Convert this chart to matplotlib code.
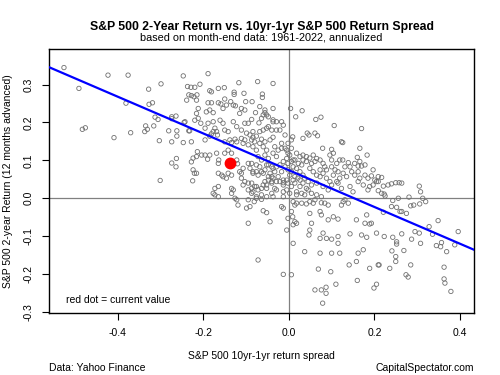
import numpy as np
import matplotlib
matplotlib.use("Agg")
import matplotlib.pyplot as plt

plt.rcParams['font.family'] = ['Liberation Sans', 'DejaVu Sans']

# monthly history: (10yr-1yr return spread, 2-year return 12 months ahead)
history = [
    (-0.526, 0.345), (-0.491, 0.290), (-0.423, 0.325), (-0.376, 0.325), (-0.299, 0.302),
    (-0.247, 0.323), (-0.189, 0.329), (-0.328, 0.288), (-0.483, 0.182), (-0.476, 0.186),
    (-0.409, 0.160), (-0.370, 0.173), (-0.381, 0.251), (-0.327, 0.248), (-0.319, 0.252),
    (-0.335, 0.191), (-0.331, 0.182), (-0.337, 0.176), (-0.316, 0.191), (-0.313, 0.214),
    (-0.306, 0.208), (-0.303, 0.152), (-0.301, 0.047), (-0.281, 0.178), (-0.274, 0.149),
    (-0.274, 0.210), (-0.264, 0.217), (-0.262, 0.178), (-0.262, 0.164), (-0.274, 0.093),
    (-0.264, 0.083), (-0.263, 0.105), (-0.245, 0.200), (-0.247, 0.147), (-0.234, 0.178),
    (-0.225, 0.046), (-0.228, 0.149),
    (-0.237, 0.295), (-0.229, 0.293), (-0.220, 0.293), (-0.208, 0.301), (-0.234, 0.273),
    (-0.228, 0.271), (-0.222, 0.268), (-0.215, 0.273), (-0.239, 0.259), (-0.216, 0.259),
    (-0.185, 0.284), (-0.181, 0.281), (-0.165, 0.290), (-0.151, 0.292), (-0.117, 0.305),
    (-0.073, 0.308), (-0.037, 0.303), (-0.128, 0.280), (-0.128, 0.274), (-0.105, 0.277),
    (-0.062, 0.275), (-0.062, 0.266), (-0.189, 0.252), (-0.181, 0.252), (-0.165, 0.252),
    (-0.159, 0.249), (-0.150, 0.262), (-0.212, 0.237), (-0.216, 0.224), (-0.193, 0.228),
    (-0.185, 0.233), (-0.177, 0.226), (-0.154, 0.237), (-0.146, 0.246), (-0.136, 0.255),
    (-0.130, 0.246), (-0.125, 0.244), (-0.111, 0.237), (-0.103, 0.233), (-0.115, 0.224),
    (-0.101, 0.255), (-0.086, 0.255), (-0.068, 0.242), (-0.056, 0.226), (-0.052, 0.220),
    (-0.048, 0.215), (-0.037, 0.237), (-0.037, 0.202), (-0.078, 0.226), (-0.087, 0.208),
    (-0.095, 0.198), (-0.103, 0.198), (-0.064, 0.211), (-0.070, 0.199), (-0.212, 0.211),
    (-0.220, 0.206), (-0.206, 0.198), (-0.189, 0.198), (-0.196, 0.185), (-0.177, 0.202),
    (-0.161, 0.206), (-0.154, 0.198), (-0.130, 0.202), (-0.122, 0.189), (-0.173, 0.185),
    (-0.169, 0.176), (-0.177, 0.176), (-0.181, 0.170), (-0.167, 0.167), (-0.150, 0.180),
    (-0.142, 0.176), (-0.111, 0.180), (-0.099, 0.172), (-0.091, 0.167), (-0.084, 0.161),
    (-0.076, 0.164), (-0.084, 0.176), (-0.068, 0.176), (-0.060, 0.180), (-0.052, 0.185),
    (-0.048, 0.189), (-0.040, 0.180), (-0.274, 0.215), (-0.243, 0.202), (-0.232, 0.178),
    (-0.196, 0.154), (-0.185, 0.164), (-0.111, 0.158), (-0.103, 0.154), (-0.087, 0.154),
    (-0.080, 0.149), (-0.064, 0.156), (-0.056, 0.149), (-0.044, 0.154), (-0.037, 0.161),
    (-0.138, 0.154), (-0.134, 0.147), (-0.126, 0.156),
    (-0.228, 0.096), (-0.224, 0.106), (-0.216, 0.110), (-0.214, 0.123), (-0.204, 0.114),
    (-0.196, 0.114), (-0.190, 0.103), (-0.185, 0.114), (-0.169, 0.119), (-0.164, 0.101),
    (-0.165, 0.092), (-0.224, 0.075), (-0.221, 0.066), (-0.216, 0.066), (-0.150, 0.119),
    (-0.142, 0.127), (-0.134, 0.119), (-0.122, 0.101), (-0.120, 0.091), (-0.165, 0.066),
    (-0.157, 0.061), (-0.154, 0.057), (-0.146, 0.053), (-0.142, 0.066), (-0.134, 0.061),
    (-0.115, 0.070), (-0.111, 0.066), (-0.107, 0.079), (-0.095, 0.092), (-0.091, 0.079),
    (-0.084, 0.066), (-0.076, 0.070), (-0.068, 0.083), (-0.064, 0.070), (-0.056, 0.075),
    (-0.048, 0.088), (-0.044, 0.066), (-0.040, 0.057), (-0.037, 0.079), (-0.111, 0.053),
    (-0.103, 0.044), (-0.095, 0.040), (-0.107, 0.035), (-0.173, 0.026), (-0.165, 0.031),
    (-0.177, 0.013), (-0.173, 0.009), (-0.134, 0.026), (-0.130, 0.022), (-0.134, 0.013),
    (-0.126, 0.000), (-0.122, -0.004), (-0.119, -0.018), (-0.095, 0.022), (-0.087, 0.026),
    (-0.084, 0.017), (-0.080, 0.031), (-0.072, 0.022), (-0.064, 0.026), (-0.060, 0.035),
    (-0.056, 0.044), (-0.052, 0.035), (-0.048, 0.048), (-0.040, 0.044), (-0.095, -0.004),
    (-0.081, -0.009), (-0.076, 0.000), (-0.064, -0.003), (-0.091, -0.022), (-0.060, -0.033),
    (-0.052, -0.038), (-0.150, 0.149), (-0.122, 0.149), (-0.107, 0.145), (-0.095, 0.141),
    (-0.084, 0.136), (-0.076, 0.127), (-0.068, 0.145), (-0.060, 0.136), (-0.052, 0.127),
    (-0.037, 0.119), (-0.072, 0.110), (-0.064, 0.101), (-0.056, 0.114), (-0.048, 0.105),
    (0.004, 0.237), (0.031, 0.231), (0.016, 0.215), (0.063, 0.208), (0.075, 0.214),
    (0.106, 0.192), (0.170, 0.184), (0.043, 0.172), (0.047, 0.167), (0.061, 0.172),
    (0.067, 0.165), (0.033, 0.158), (0.123, 0.149), (0.126, 0.147), (0.079, 0.132),
    (0.100, 0.129), (0.104, 0.119), (0.096, 0.114), (0.166, 0.132), (0.183, 0.114),
    (0.160, 0.108), (0.126, 0.101), (0.139, 0.094), (0.131, 0.083), (0.143, 0.083),
    (0.166, 0.097), (0.170, 0.085), (0.162, 0.085), (0.197, 0.075), (0.057, 0.114),
    (0.049, 0.106), (0.061, 0.097), (0.053, 0.092), (0.041, 0.097), (0.033, 0.114),
    (0.073, 0.101), (0.080, 0.092), (0.084, 0.083), (0.073, 0.075), (0.088, 0.075),
    (0.100, 0.083), (0.108, 0.075), (0.104, 0.061), (0.115, 0.070), (0.119, 0.053),
    (0.112, 0.044), (0.127, 0.066), (0.135, 0.057), (0.147, 0.070), (0.154, 0.061),
    (0.162, 0.070), (0.166, 0.053), (0.178, 0.061), (0.185, 0.053), (0.193, 0.059),
    (0.201, 0.048), (0.209, 0.057), (0.018, 0.119), (0.026, 0.110), (0.014, 0.101),
    (0.022, 0.092), (0.030, 0.088), (0.018, 0.079), (0.026, 0.070), (0.033, 0.061),
    (0.014, 0.057), (0.026, 0.048), (0.037, 0.053), (0.045, 0.044), (0.049, 0.079),
    (0.057, 0.070), (0.065, 0.061), (0.073, 0.057), (0.080, 0.066), (0.088, 0.053),
    (0.096, 0.044), (-0.037, 0.207), (-0.029, 0.202), (-0.017, 0.202), (-0.013, 0.193),
    (-0.021, 0.180), (-0.009, 0.167), (-0.033, 0.136), (-0.025, 0.127), (-0.017, 0.145),
    (-0.009, 0.132), (-0.002, 0.119), (-0.005, 0.105), (-0.013, 0.097), (-0.021, 0.088),
    (-0.029, 0.110), (-0.040, 0.083), (-0.033, 0.070), (-0.025, 0.057), (-0.017, 0.070),
    (-0.009, 0.083), (-0.002, 0.092), (0.002, 0.061), (-0.005, 0.048), (-0.013, 0.041),
    (-0.029, 0.044), (-0.037, 0.053), (0.009, 0.162), (0.002, 0.114), (0.006, 0.097),
    (0.010, 0.083), (0.006, 0.070), (0.010, 0.048),
    (-0.040, 0.040), (-0.033, 0.026), (-0.021, 0.044), (-0.013, 0.035), (-0.002, 0.040),
    (0.006, 0.031), (0.014, 0.040), (0.026, 0.031), (0.033, 0.040), (0.041, 0.026),
    (0.053, 0.035), (0.065, 0.040), (0.080, 0.031), (0.092, 0.022), (0.100, 0.035),
    (0.115, 0.040), (0.123, 0.026), (0.143, 0.031), (0.150, 0.017), (0.162, 0.044),
    (0.174, 0.035), (0.185, 0.022), (0.189, 0.031), (0.205, 0.044), (-0.040, 0.013),
    (-0.013, 0.017), (0.002, 0.013), (0.018, 0.009), (0.030, 0.013), (0.037, 0.009),
    (-0.017, -0.022), (-0.013, -0.026), (0.014, -0.018), (0.018, -0.013), (0.010, -0.009),
    (0.030, -0.013), (0.041, -0.015), (0.049, -0.009), (0.057, -0.013), (0.061, -0.004),
    (0.076, -0.012), (0.084, -0.013), (0.092, -0.018), (0.123, -0.018), (0.127, -0.009),
    (0.139, -0.013), (0.131, -0.004), (0.006, -0.035), (0.009, -0.049), (-0.002, -0.053),
    (0.014, -0.062), (0.010, -0.070), (0.018, -0.066), (-0.005, -0.084), (-0.044, -0.062),
    (0.049, -0.040), (0.073, -0.035), (0.076, -0.044), (0.104, -0.049), (0.115, -0.055),
    (0.092, -0.057), (0.053, -0.066), (0.049, -0.084), (0.047, -0.097), (0.080, -0.092),
    (0.073, -0.106), (0.088, -0.106), (0.100, -0.108), (0.115, -0.101), (0.115, -0.119),
    (0.119, -0.145), (0.143, -0.094), (0.158, -0.057), (0.170, -0.097), (0.178, -0.066),
    (0.182, -0.103), (0.193, -0.066), (0.205, -0.092), (0.182, -0.044), (0.010, -0.119),
    (0.037, -0.141), (0.073, -0.145), (0.100, -0.145), (0.162, -0.145), (0.174, -0.136),
    (-0.013, -0.201), (0.006, -0.202), (0.069, -0.187), (0.098, -0.194), (0.061, -0.242),
    (0.076, -0.242), (0.087, -0.235), (0.087, -0.251), (0.110, -0.227), (0.079, -0.277),
    (0.141, -0.176), (0.158, -0.167), (0.189, -0.185), (0.209, -0.176), (0.160, -0.217),
    (0.199, -0.237), (0.205, -0.227),
    (0.221, -0.037), (0.240, -0.022), (0.252, -0.024), (0.264, -0.035), (0.275, -0.040),
    (0.285, -0.020), (0.292, -0.018), (0.306, -0.015), (0.320, -0.009), (0.223, -0.101),
    (0.243, -0.103), (0.252, -0.115), (0.252, -0.121), (0.264, -0.094), (0.269, -0.138),
    (0.287, -0.108), (0.295, -0.088), (0.305, -0.092), (0.308, -0.119), (0.328, -0.075),
    (0.336, -0.095), (0.349, -0.059), (0.357, -0.117), (0.345, -0.125), (0.355, -0.128),
    (0.369, -0.141), (0.396, -0.088), (0.211, -0.176), (0.236, -0.185), (0.250, -0.154),
    (0.250, -0.167), (0.274, -0.202), (0.279, -0.208), (0.285, -0.176), (0.363, -0.182),
    (0.363, -0.213), (0.365, -0.224), (0.379, -0.246), (0.241, -0.139), (-0.095, -0.066),
    (-0.072, -0.163), (-0.099, -0.026), (0.197, 0.035), (0.209, 0.044), (0.217, 0.055),
    (0.221, 0.032), (0.232, 0.035), (0.240, 0.038), (0.250, 0.041), (0.258, 0.041),
    (0.264, 0.040), (0.209, 0.020), (0.217, 0.013), (0.223, 0.011), (0.225, 0.006),
    (0.243, -0.006), (0.256, 0.000), (0.281, 0.003), (0.305, 0.032), (0.308, 0.017),
    (0.313, 0.000), (0.260, -0.035), (0.189, -0.068), (0.388, -0.123),
    (-0.056, 0.233), (-0.060, 0.220), (-0.029, 0.180), (-0.002, 0.145), (0.006, 0.154),
    (0.006, 0.132), (-0.005, 0.127), (-0.017, 0.132), (0.010, 0.101), (0.033, 0.101),
    (0.041, 0.110), (0.065, 0.105), (0.100, 0.101), (0.112, 0.092), (0.119, 0.101),
    (0.154, 0.092), (0.178, 0.088), (-0.087, 0.092), (-0.076, 0.088), (-0.052, 0.088),
    (-0.029, 0.083), (-0.002, 0.075), (0.021, 0.053), (-0.084, 0.070), (-0.072, 0.061),
    (-0.060, 0.066), (-0.048, 0.057), (-0.013, 0.048), (-0.087, 0.040), (-0.076, 0.031),
    (-0.052, 0.026), (-0.029, 0.022), (-0.005, 0.022), (0.018, 0.017), (0.045, 0.022),
    (0.053, 0.013), (0.065, 0.009), (0.076, 0.004), (-0.087, 0.013), (-0.076, 0.004),
    (-0.064, 0.009), (-0.052, 0.004), (-0.037, 0.004), (-0.013, 0.004), (-0.165, 0.004),
]

current_spread = -0.138
current_return = 0.092

fit_intercept = 0.074
fit_slope = -0.485

xlim = (-0.561, 0.433)
ylim = (-0.303, 0.394)
xticks = [-0.4, -0.2, 0.0, 0.2, 0.4]
yticks = [-0.3, -0.2, -0.1, 0.0, 0.1, 0.2, 0.3]


def main():
    pts = np.array(history)

    fig = plt.figure(figsize=(5, 3.75), dpi=100)
    ax = fig.add_axes([0.098, 0.1653, 0.850, 0.704])

    ax.axhline(0, color='#808080', lw=0.9, zorder=1)
    ax.axvline(0, color='#808080', lw=0.9, zorder=1)

    ax.scatter(pts[:, 0], pts[:, 1], s=10, facecolors='none',
               edgecolors='#707070', linewidths=0.6, zorder=2)

    ax.axline((0, fit_intercept), slope=fit_slope, color='#0000ff', lw=1.6, zorder=3)

    ax.plot([current_spread], [current_return], 'o', color='red', ms=7.5, zorder=4)

    ax.set_xlim(*xlim)
    ax.set_ylim(*ylim)
    ax.set_xticks(xticks)
    ax.set_yticks(yticks)
    ax.set_xticklabels(['%.1f' % v for v in xticks])
    ax.set_yticklabels(['%.1f' % v for v in yticks], rotation=90, va='center')
    ax.tick_params(direction='out', length=5, width=0.8, labelsize=7.5, pad=6)
    for s in ax.spines.values():
        s.set_linewidth(1.0)

    ax.text(0.04, 0.05, 'red dot = current value', transform=ax.transAxes,
            fontsize=7.5, ha='left', va='center')

    fig.text(0.523, 0.929, 'S&P 500 2-Year Return vs. 10yr-1yr S&P 500 Return Spread',
             ha='center', va='center', fontsize=8.8, fontweight='bold')
    fig.text(0.523, 0.901, 'based on month-end data: 1961-2022, annualized',
             ha='center', va='center', fontsize=7.8)
    fig.text(0.523, 0.051, 'S&P 500 10yr-1yr return spread',
             ha='center', va='center', fontsize=7.5)
    fig.text(0.016, 0.517, 'S&P 500 2-year Return (12 months advanced)',
             ha='center', va='center', rotation=90, fontsize=7.5)
    fig.text(0.098, 0.019, 'Data: Yahoo Finance', ha='left', va='center', fontsize=7.5)
    fig.text(0.948, 0.019, 'CapitalSpectator.com', ha='right', va='center', fontsize=7.5)

    fig.savefig('out.png', dpi=100)


if __name__ == '__main__':
    main()
